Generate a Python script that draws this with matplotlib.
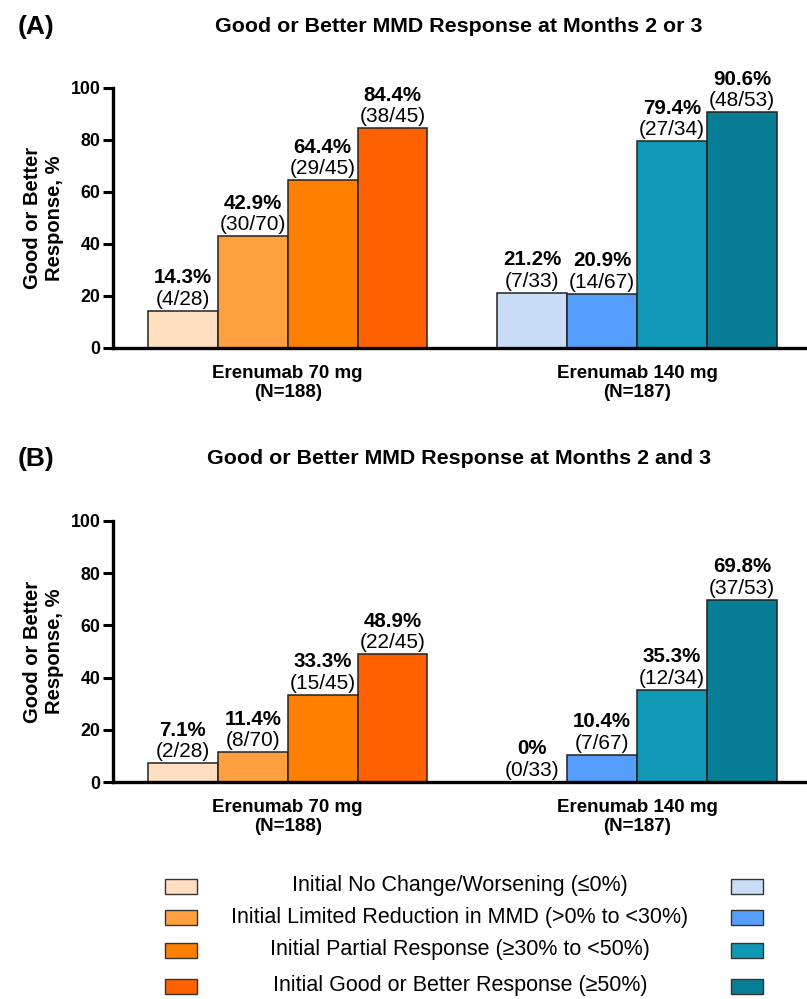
import matplotlib.pyplot as plt
from matplotlib.patches import Rectangle

plt.rcParams['font.family'] = ['Liberation Sans', 'DejaVu Sans']

groups = ["Erenumab 70 mg\n(N=188)", "Erenumab 140 mg\n(N=187)"]
categories = [
    "Initial No Change/Worsening (\u22640%)",
    "Initial Limited Reduction in MMD (>0% to <30%)",
    "Initial Partial Response (\u226530% to <50%)",
    "Initial Good or Better Response (\u226550%)",
]
orange_colors = ["#FFDFC0", "#FFA040", "#FF8000", "#FF6000"]
blue_colors = ["#C9DDF6", "#559EFB", "#1098B5", "#087E96"]

# panel A: months 2 or 3
a_pct_70 = [14.3, 42.9, 64.4, 84.4]
a_n_70 = ["(4/28)", "(30/70)", "(29/45)", "(38/45)"]
a_pct_140 = [21.2, 20.9, 79.4, 90.6]
a_n_140 = ["(7/33)", "(14/67)", "(27/34)", "(48/53)"]

# panel B: months 2 and 3
b_pct_70 = [7.1, 11.4, 33.3, 48.9]
b_n_70 = ["(2/28)", "(8/70)", "(15/45)", "(22/45)"]
b_pct_140 = [0, 10.4, 35.3, 69.8]
b_n_140 = ["(0/33)", "(7/67)", "(12/34)", "(37/53)"]


def fmt(v):
    return "0%" if v == 0 else f"{v:.1f}%"


def draw_panel(ax, pct70, n70, pct140, n140):
    x70 = [0, 1, 2, 3]
    x140 = [5, 6, 7, 8]
    for xs, vals, ns, cols in [(x70, pct70, n70, orange_colors),
                               (x140, pct140, n140, blue_colors)]:
        ax.bar(xs, vals, width=1.0, color=cols, edgecolor="#222222", linewidth=1.1)
        for x, v, n in zip(xs, vals, ns):
            ax.annotate(n, (x, v), xytext=(0, 1.5), textcoords="offset points",
                        ha="center", va="bottom", fontsize=15)
            ax.annotate(fmt(v), (x, v), xytext=(0, 17), textcoords="offset points",
                        ha="center", va="bottom", fontsize=14.8, fontweight="bold")
    ax.set_xlim(-1.0, 8.93)
    ax.set_ylim(0, 100)
    ax.set_yticks([0, 20, 40, 60, 80, 100])
    ax.set_xticks([1.5, 6.5])
    ax.set_xticklabels(groups, fontsize=13.5, fontweight="bold")
    ax.tick_params(axis="x", length=0, pad=12)
    ax.tick_params(axis="y", length=7, width=2.2, labelsize=12.8, pad=2)
    for lab in ax.get_yticklabels():
        lab.set_fontweight("bold")
    ax.spines["top"].set_visible(False)
    ax.spines["right"].set_visible(False)
    ax.spines["left"].set_linewidth(2.4)
    ax.spines["bottom"].set_linewidth(2.4)
    ax.set_ylabel("Good or Better\nResponse, %", fontsize=14.5, fontweight="bold",
                  labelpad=5, linespacing=1.15)


fig = plt.figure(figsize=(8.07, 9.99), dpi=100)
axA = fig.add_axes([0.140, 0.6517, 0.86, 0.2603])
axB = fig.add_axes([0.140, 0.2172, 0.86, 0.2613])
draw_panel(axA, a_pct_70, a_n_70, a_pct_140, a_n_140)
draw_panel(axB, b_pct_70, b_n_70, b_pct_140, b_n_140)

fig.text(459 / 807, 1 - 27 / 999, "Good or Better MMD Response at Months 2 or 3",
         ha="center", va="center", fontsize=15.4, fontweight="bold")
fig.text(459 / 807, 1 - 459 / 999, "Good or Better MMD Response at Months 2 and 3",
         ha="center", va="center", fontsize=15.4, fontweight="bold")
fig.text(0.022, 1 - 27 / 999, "(A)", ha="left", va="center", fontsize=19, fontweight="bold")
fig.text(0.022, 1 - 459 / 999, "(B)", ha="left", va="center", fontsize=19, fontweight="bold")

# legend rows
row_y = [886, 917, 950, 986]
for lab, co, cb, yy in zip(categories, orange_colors, blue_colors, row_y):
    yf = 1 - yy / 999
    h = 15 / 999
    fig.patches.append(Rectangle((165 / 807, yf - h / 2), 32 / 807, h, transform=fig.transFigure,
                                 facecolor=co, edgecolor="#333333", linewidth=1.0))
    fig.patches.append(Rectangle((731 / 807, yf - h / 2), 32 / 807, h, transform=fig.transFigure,
                                 facecolor=cb, edgecolor="#333333", linewidth=1.0))
    fig.text(460 / 807, yf, lab, ha="center", va="center", fontsize=15.5)

fig.savefig("out.png", dpi=100)
